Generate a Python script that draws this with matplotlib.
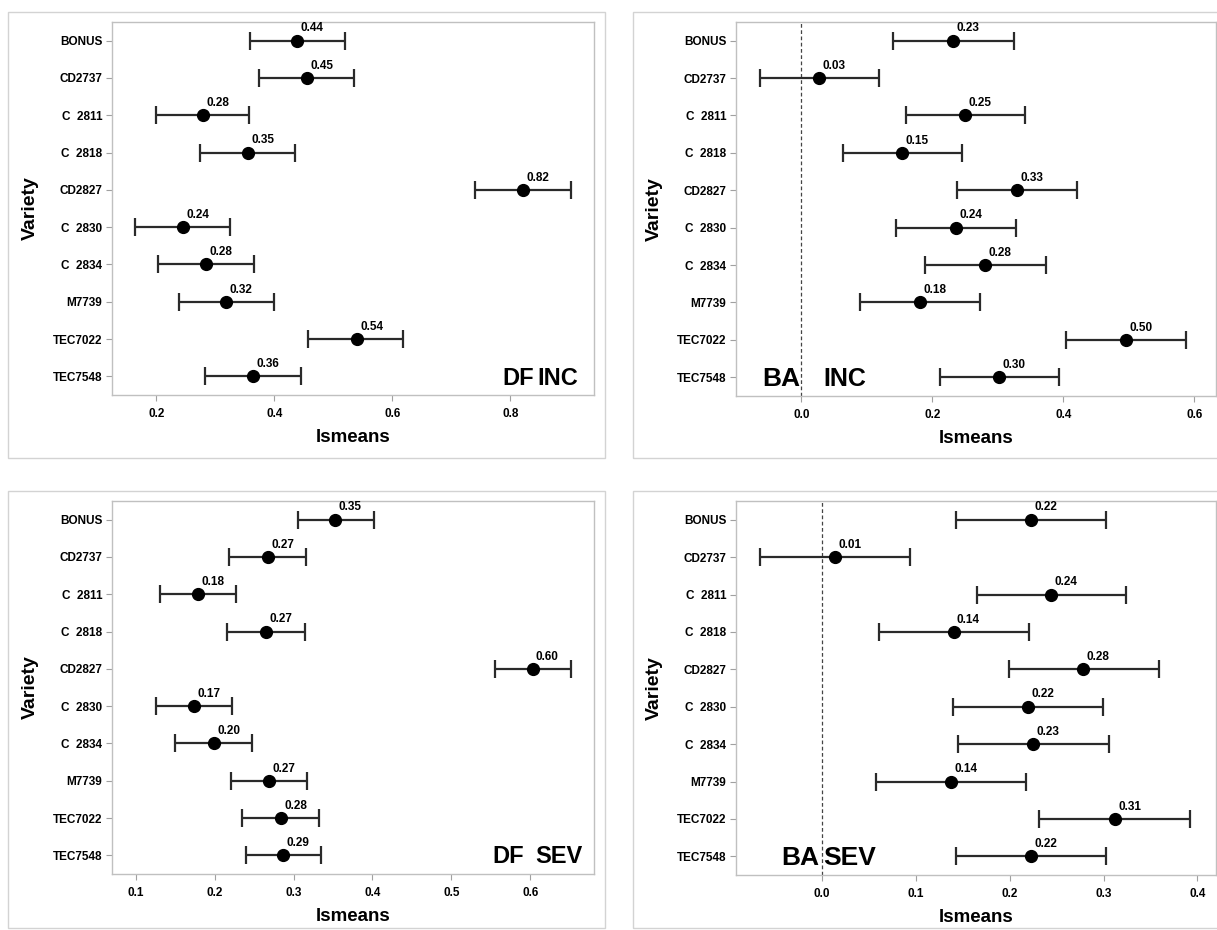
import matplotlib
matplotlib.use("Agg")
import matplotlib.pyplot as plt
from matplotlib.patches import Rectangle

plt.rcParams['font.family'] = ['Liberation Sans', 'DejaVu Sans']
plt.rcParams['font.weight'] = 'bold'

varieties = ["BONUS", "CD2737", "C  2811", "C  2818", "CD2827",
             "C  2830", "C  2834", "M7739", "TEC7022", "TEC7548"]

# DF INC
df_inc_mean  = [0.439, 0.455, 0.280, 0.356, 0.822, 0.246, 0.285, 0.319, 0.540, 0.364]
df_inc_lower = [0.359, 0.375, 0.200, 0.275, 0.741, 0.164, 0.203, 0.239, 0.458, 0.283]
df_inc_upper = [0.520, 0.536, 0.358, 0.436, 0.903, 0.325, 0.366, 0.400, 0.619, 0.446]
df_inc_text  = ["0.44", "0.45", "0.28", "0.35", "0.82", "0.24", "0.28", "0.32", "0.54", "0.36"]

# BA INC
ba_inc_mean  = [0.231, 0.027, 0.250, 0.154, 0.329, 0.236, 0.281, 0.181, 0.495, 0.302]
ba_inc_lower = [0.140, -0.064, 0.159, 0.063, 0.237, 0.144, 0.189, 0.089, 0.404, 0.212]
ba_inc_upper = [0.324, 0.119, 0.341, 0.245, 0.420, 0.328, 0.373, 0.272, 0.587, 0.394]
ba_inc_text  = ["0.23", "0.03", "0.25", "0.15", "0.33", "0.24", "0.28", "0.18", "0.50", "0.30"]

# DF SEV
df_sev_mean  = [0.353, 0.267, 0.179, 0.265, 0.603, 0.174, 0.199, 0.269, 0.284, 0.287]
df_sev_lower = [0.306, 0.218, 0.130, 0.216, 0.555, 0.125, 0.150, 0.220, 0.235, 0.239]
df_sev_upper = [0.402, 0.316, 0.227, 0.315, 0.652, 0.222, 0.247, 0.317, 0.332, 0.335]
df_sev_text  = ["0.35", "0.27", "0.18", "0.27", "0.60", "0.17", "0.20", "0.27", "0.28", "0.29"]

# BA SEV
ba_sev_mean  = [0.223, 0.014, 0.244, 0.140, 0.278, 0.219, 0.225, 0.137, 0.312, 0.223]
ba_sev_lower = [0.143, -0.066, 0.165, 0.060, 0.199, 0.139, 0.145, 0.057, 0.231, 0.143]
ba_sev_upper = [0.303, 0.094, 0.324, 0.220, 0.359, 0.299, 0.306, 0.217, 0.392, 0.303]
ba_sev_text  = ["0.22", "0.01", "0.24", "0.14", "0.28", "0.22", "0.23", "0.14", "0.31", "0.22"]

W, H = 1217, 930
fig = plt.figure(figsize=(W / 100, H / 100), dpi=100)


def rect(l, t, r, b):
    return [l / W, 1 - b / H, (r - l) / W, (b - t) / H]


# outer panel boxes
for (l, t, r, b) in [(8, 12, 605, 458), (633, 12, 1230, 458),
                     (8, 491, 605, 928), (633, 491, 1230, 928)]:
    fig.patches.append(Rectangle((l / W, 1 - b / H), (r - l) / W, (b - t) / H,
                                 transform=fig.transFigure, fill=False,
                                 edgecolor='#d3d3d3', linewidth=1.0))

panels = [
    dict(box=(112, 22, 594, 395), xlim=(0.125, 0.942), ticks=[0.2, 0.4, 0.6, 0.8],
         mean=df_inc_mean, lo=df_inc_lower, hi=df_inc_upper, txt=df_inc_text, zero=False),
    dict(box=(736, 22, 1216, 396), xlim=(-0.100, 0.633), ticks=[0.0, 0.2, 0.4, 0.6],
         mean=ba_inc_mean, lo=ba_inc_lower, hi=ba_inc_upper, txt=ba_inc_text, zero=True),
    dict(box=(112, 501, 594, 874), xlim=(0.0696, 0.681), ticks=[0.1, 0.2, 0.3, 0.4, 0.5, 0.6],
         mean=df_sev_mean, lo=df_sev_lower, hi=df_sev_upper, txt=df_sev_text, zero=False),
    dict(box=(736, 501, 1216, 875), xlim=(-0.092, 0.420), ticks=[0.0, 0.1, 0.2, 0.3, 0.4],
         mean=ba_sev_mean, lo=ba_sev_lower, hi=ba_sev_upper, txt=ba_sev_text, zero=True),
]

ypos = list(range(len(varieties)))

for p in panels:
    ax = fig.add_axes(rect(*p['box']))
    m, lo, hi = p['mean'], p['lo'], p['hi']
    xerr = [[mi - l for mi, l in zip(m, lo)], [h - mi for mi, h in zip(m, hi)]]
    ax.errorbar(m, ypos, xerr=xerr, fmt='o', color='black', ecolor='#2a2a2a',
                elinewidth=1.6, capsize=6.2, capthick=1.6, markersize=8.5, zorder=3)
    for xi, yi, t in zip(m, ypos, p['txt']):
        ax.annotate(t, (xi, yi), xytext=(2.5, 4.5), textcoords='offset points',
                    ha='left', va='bottom', fontsize=8.5, fontweight='bold')
    if p['zero']:
        ax.axvline(0.0, color='#444444', linewidth=0.9, linestyle=(0, (3, 2)), zorder=1)
    ax.set_xlim(*p['xlim'])
    ax.set_ylim(len(varieties) - 0.5, -0.5)
    ax.set_yticks(ypos)
    ax.set_yticklabels(varieties, fontsize=8.5, fontweight='bold')
    ax.set_xticks(p['ticks'])
    ax.set_xticklabels([f"{t:.1f}" for t in p['ticks']], fontsize=8.5, fontweight='bold')
    ax.tick_params(axis='both', direction='out', length=4, width=0.8,
                   color='#a0a0a0', pad=3)
    ax.tick_params(axis='x', pad=5)
    for s in ax.spines.values():
        s.set_color('#c0c0c0')
        s.set_linewidth(1.0)
    ax.set_xlabel('lsmeans', fontsize=13.5, fontweight='bold', labelpad=7)
    ax.set_ylabel('Variety', fontsize=14, fontweight='bold', labelpad=10)


def ptext(x, y, s, size, ha='left'):
    fig.text(x / W, 1 - y / H, s, fontsize=size, fontweight='bold',
             ha=ha, va='baseline')


# panel labels
ptext(502, 385, 'DF', 17)
ptext(537, 385, 'INC', 17)
ptext(762, 386, 'BA', 19)
ptext(866, 386, 'INC', 18, ha='right')
ptext(492, 863, 'DF', 17)
ptext(535, 863, 'SEV', 17)
ptext(781, 865, 'BA', 19)
ptext(876, 865, 'SEV', 19, ha='right')

fig.savefig('out.png', dpi=100)
